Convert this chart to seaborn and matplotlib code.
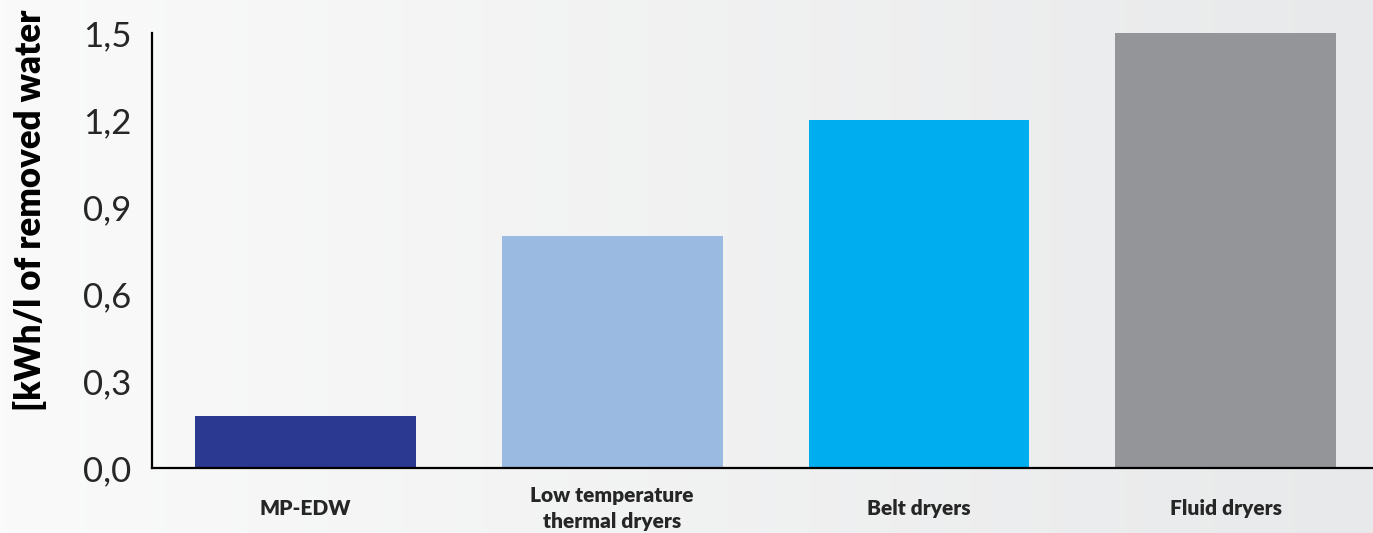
import numpy as np
import pandas as pd
import matplotlib
matplotlib.use("Agg")
import matplotlib.pyplot as plt
import seaborn as sns

# data
categories = ["MP-EDW", "Low temperature\nthermal dryers", "Belt dryers", "Fluid dryers"]
values = [0.18, 0.80, 1.20, 1.50]
bar_colors = ["#2B3990", "#9BBAE1", "#00AEEF", "#939598"]
y_ticks = [0.0, 0.3, 0.6, 0.9, 1.2, 1.5]
y_ticklabels = ["0,0", "0,3", "0,6", "0,9", "1,2", "1,5"]

sns.set_theme(style="white")
plt.rcParams["font.family"] = ["Lato", "DejaVu Sans"]

df = pd.DataFrame({"cat": categories, "val": values})

fig = plt.figure(figsize=(13.73, 5.33), dpi=100)

# background gradient
bg = fig.add_axes([0, 0, 1, 1], zorder=0)
grad = np.linspace(0, 1, 256).reshape(1, -1)
cmap = matplotlib.colors.LinearSegmentedColormap.from_list("bg", ["#FAFAFA", "#E8E9EA"])
bg.imshow(grad, aspect="auto", cmap=cmap, extent=[0, 1, 0, 1])
bg.axis("off")

ax = fig.add_axes([0.1107, 0.122, 0.8893, 0.816], zorder=1)
ax.patch.set_alpha(0)

sns.barplot(data=df, x="cat", y="val", hue="cat", palette=bar_colors,
            legend=False, width=0.72, saturation=1, linewidth=0, ax=ax)

ax.set_xlim(-0.5, 3.48)
ax.set_ylim(0, 1.5)
ax.set_yticks(y_ticks)
ax.set_yticklabels(y_ticklabels, fontsize=25)
ax.tick_params(axis="y", length=0, pad=15)
ax.tick_params(axis="x", length=0, pad=29)
for lbl in ax.get_xticklabels():
    lbl.set_fontsize(15)
    lbl.set_fontweight("heavy")
    lbl.set_verticalalignment("center")
    lbl.set_linespacing(1.45)
ax.set_xlabel("")
ax.set_ylabel("")

for s in ["top", "right"]:
    ax.spines[s].set_visible(False)
for s in ["left", "bottom"]:
    ax.spines[s].set_color("black")
    ax.spines[s].set_linewidth(1.6)

fig.text(0.022, 0.606, "[kWh/l of removed water", rotation=90, ha="center",
         va="center", fontsize=25, fontweight="heavy", color="black")

fig.savefig("out.png", dpi=100)
